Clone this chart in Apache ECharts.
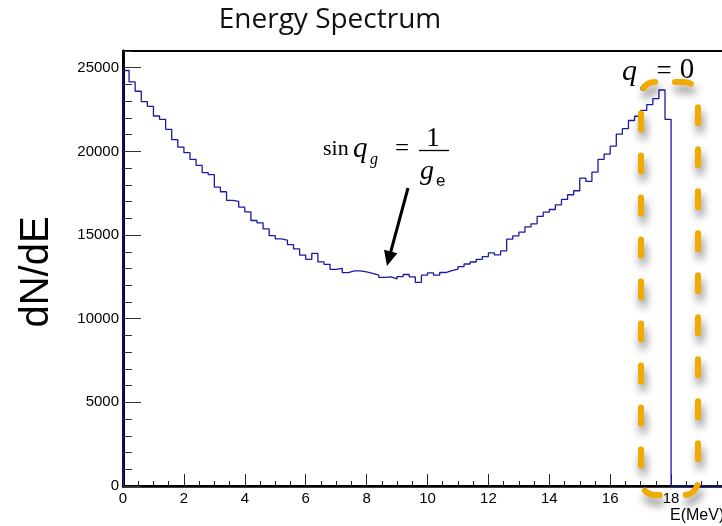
<!DOCTYPE html>
<html>
<head>
<meta charset="utf-8">
<script src="https://cdn.jsdelivr.net/npm/echarts@6/dist/echarts.min.js"></script>
<style>html,body{margin:0;padding:0;background:#fff}#c{width:722px;height:526px}</style>
</head>
<body>
<div id="c"></div>
<script>
// Histogram: 0.2 MeV bins from 0 to 18 MeV
const binStart = 0;
const binWidth = 0.2;
const counts = [
  24833, 24150, 23593, 22976, 22695, 22114, 21916, 21317, 20700, 20258,
  19922, 19521, 19162, 18725, 18605, 17862, 17587, 17066, 17006, 16665,
  16389, 15868, 15730, 15371, 14970, 14770, 14690, 14431, 14172, 13800,
  13550, 13910, 13400, 13250, 12950, 13014, 12750, 12855, 12855, 12800,
  12715, 12600, 12465, 12495, 12376, 12520, 12640, 12495, 12176, 12600,
  12736, 12600, 12760, 12870, 12970, 13110, 13270, 13390, 13550, 13710,
  13930, 13810, 14053, 14750, 14950, 15170, 15490, 15670, 16110, 16367,
  16527, 16808, 17126, 17407, 17647, 18400, 18204, 18765, 19521, 19840,
  20318, 21030, 21357, 21846, 22100, 22450, 22800, 23155, 23670, 21916
];
const xMin = 0, xMax = 20, xMajor = 2, xMinor = 0.5;
const yMin = 0, yMax = 26000, yMajor = 5000, yMinor = 1000;
const titleText = 'Energy Spectrum';
const yTitle = 'dN/dE';
const xTitle = 'E(MeV)';

// step outline points from bin edges
const pts = [[binStart, 0]];
counts.forEach((c, i) => {
  pts.push([binStart + i * binWidth, c]);
  pts.push([binStart + (i + 1) * binWidth, c]);
});
const lastEdge = binStart + counts.length * binWidth;
pts.push([lastEdge, 0]);
pts.push([xMax, 0]);

const chart = echarts.init(document.getElementById('c'), null, {renderer: 'canvas'});
const lab = {fontFamily: 'Liberation Sans', fontSize: 15, color: '#000'};
chart.setOption({
  animation: false,
  backgroundColor: '#fff',
  grid: {left: 123, top: 51, width: 609, height: 435, show: true, borderColor: '#000', borderWidth: 2,
         backgroundColor: 'transparent', containLabel: false, outerBoundsMode: 'none'},
  xAxis: [
    {type: 'value', min: xMin, max: xMax, interval: xMajor, position: 'bottom',
     axisLine: {lineStyle: {color: '#000', width: 2.5}},
     axisTick: {inside: true, length: 12, lineStyle: {color: '#222', width: 1}},
     axisLabel: Object.assign({margin: 5, showMaxLabel: false, formatter: v => String(v)}, lab),
     splitLine: {show: false}},
    {type: 'value', min: xMin, max: xMax, interval: xMinor, position: 'bottom',
     axisLine: {show: false},
     axisTick: {inside: true, length: 5, lineStyle: {color: '#222', width: 1}},
     axisLabel: {show: false}, splitLine: {show: false}}
  ],
  yAxis: [
    {type: 'value', min: yMin, max: yMax, interval: yMajor, position: 'left',
     axisLine: {show: true, lineStyle: {color: '#000', width: 3}},
     axisTick: {show: true, inside: true, length: 18, lineStyle: {color: '#333', width: 1}},
     axisLabel: Object.assign({margin: 4, showMaxLabel: false, formatter: v => String(v)}, lab),
     splitLine: {show: false}},
    {type: 'value', min: yMin, max: yMax, interval: yMinor, position: 'left',
     axisLine: {show: false},
     axisTick: {show: true, inside: true, length: 9, lineStyle: {color: '#333', width: 1}},
     axisLabel: {show: false}, splitLine: {show: false}}
  ],
  series: [{
    type: 'line', xAxisIndex: 0, yAxisIndex: 0, data: pts, showSymbol: false, smooth: false,
    lineStyle: {color: '#1a1aa0', width: 1.3}, z: 3
  }],
  graphic: [
    {type: 'text', x: 330, y: 20, style: {text: titleText, font: '28px "Open Sans"', fill: '#111', align: 'center', verticalAlign: 'middle'}},
    {type: 'text', x: 37, y: 272, rotation: Math.PI / 2, style: {text: yTitle, font: '40px "Liberation Sans"', fill: '#000', align: 'center', verticalAlign: 'middle'}},
    {type: 'text', x: 670, y: 516, style: {text: xTitle, font: '16px "Liberation Sans"', fill: '#000', align: 'left', verticalAlign: 'middle'}},
    // sin q_g = 1 / g_e
    {type: 'text', x: 323, y: 149, style: {text: 'sin', font: '22px "Liberation Serif"', fill: '#000', align: 'left', verticalAlign: 'middle'}},
    {type: 'text', x: 353, y: 149, style: {text: 'q', font: 'italic 29px "Liberation Serif"', fill: '#000', align: 'left', verticalAlign: 'middle'}},
    {type: 'text', x: 370, y: 160, style: {text: 'g', font: 'italic 16px "Liberation Serif"', fill: '#000', align: 'left', verticalAlign: 'middle'}},
    {type: 'text', x: 402, y: 149, style: {text: '=', font: '25px "Liberation Serif"', fill: '#000', align: 'center', verticalAlign: 'middle'}},
    {type: 'text', x: 433, y: 139, style: {text: '1', font: '27px "Liberation Serif"', fill: '#000', align: 'center', verticalAlign: 'middle'}},
    {type: 'line', shape: {x1: 419, y1: 150.5, x2: 449, y2: 150.5}, style: {stroke: '#000', lineWidth: 1.3}},
    {type: 'text', x: 420, y: 172, style: {text: 'g', font: 'italic 28px "Liberation Serif"', fill: '#000', align: 'left', verticalAlign: 'middle'}},
    {type: 'text', x: 436, y: 181, style: {text: 'e', font: '17px "Liberation Sans"', fill: '#000', align: 'left', verticalAlign: 'middle'}},
    // arrow
    {type: 'line', shape: {x1: 408, y1: 188, x2: 390.7, y2: 252}, style: {stroke: '#000', lineWidth: 3}},
    {type: 'polygon', shape: {points: [[384, 249.7], [397.4, 253.3], [387, 266]]}, style: {fill: '#000'}},
    // q_c = 0
    {type: 'text', x: 622, y: 72, style: {text: 'q', font: 'italic 30px "Liberation Serif"', fill: '#000', align: 'left', verticalAlign: 'middle'}},
    {type: 'text', x: 640, y: 87, style: {text: 'c', font: 'italic 15px "Liberation Serif"', fill: '#000', align: 'left', verticalAlign: 'middle'}},
    {type: 'text', x: 664, y: 72, style: {text: '=', font: '27px "Liberation Serif"', fill: '#000', align: 'center', verticalAlign: 'middle'}},
    {type: 'text', x: 687, y: 70, style: {text: '0', font: '29px "Liberation Serif"', fill: '#000', align: 'center', verticalAlign: 'middle'}},
    // orange dashed rounded box
    {type: 'rect', z: 100, shape: {x: 641, y: 82, width: 57, height: 413, r: 14},
     style: {fill: 'none', stroke: '#f0aa00', lineWidth: 6, lineCap: 'round', lineDash: [16, 26], lineDashOffset: 22,
             shadowBlur: 8, shadowOffsetX: 2, shadowOffsetY: 7, shadowColor: 'rgba(0,0,0,0.5)'}}
  ]
});
</script>
</body>
</html>
